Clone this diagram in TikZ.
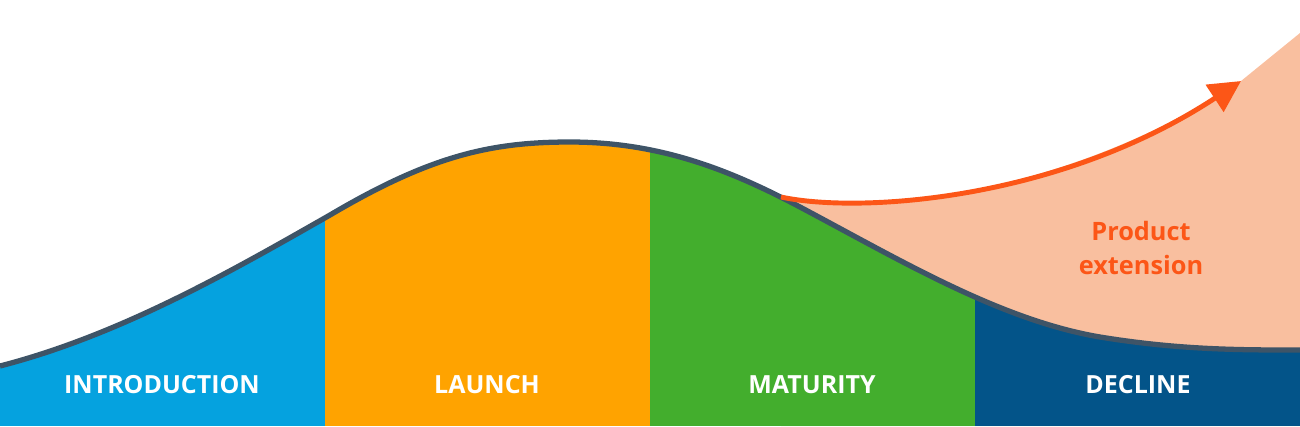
\documentclass[tikz,border=0pt]{standalone}
\usepackage{fontspec}
\setmainfont{Open Sans}
\usepackage{tikz}
\usetikzlibrary{positioning}
\usetikzlibrary{arrows.meta}
\definecolor{introblue}{HTML}{05A2DF}
\definecolor{launchorange}{HTML}{FFA300}
\definecolor{maturegreen}{HTML}{43AE2D}
\definecolor{declineblue}{HTML}{035489}
\definecolor{curveslate}{HTML}{3E5467}
\definecolor{extpeach}{HTML}{F9BF9F}
\definecolor{extorange}{HTML}{FC5617}
\tikzstyle{stage label}=[font=\bfseries\fontsize{7.1}{9}\selectfont,text=white,anchor=center]
\tikzstyle{ext label}=[font=\bfseries\fontsize{7.2}{9.4}\selectfont,text=extorange,align=center]
\tikzstyle{life curve}=[draw=curveslate,line width=1.5pt]
\tikzstyle{ext arrow}=[-{Triangle[length=9pt,width=9pt]},draw=extorange,line width=1.4pt]
\newcommand{\stagenode}[3][]{
  \node [stage label, #1] (#2) {#3}
}
\newcommand{\lifepath}{(0,366) .. controls (120,335) and (230,272) .. (330,215)
  .. controls (430,156) and (490,142) .. (570,142)
  .. controls (660,142) and (730,170) .. (800,207)
  .. controls (900,260) and (1000,320) .. (1100,337)
  .. controls (1180,350) and (1240,350) .. (1300,350)}

\begin{document}
\begin{tikzpicture}[x=0.01cm,y=-0.01cm]
        \useasboundingbox (0,0) rectangle (1300,426);
        \coordinate (ext start) at (781,197);
        \coordinate (ext tip) at (1241,81);

        % extension area above the curve
        \fill[extpeach] (ext start) .. controls (860,214) and (1060,200) .. (ext tip)
            -- (1300,33) -- (1300,426) -- (781,426) -- cycle;

        % the four stages
        \begin{scope}
                \clip \lifepath -- (1300,426) -- (0,426) -- cycle;
                \fill[introblue] (0,0) rectangle (325,426);
                \fill[launchorange] (325,0) rectangle (650,426);
                \fill[maturegreen] (650,0) rectangle (975,426);
                \fill[declineblue] (975,0) rectangle (1300,426);
        \end{scope}
        \draw[life curve] \lifepath;

        \draw[ext arrow] (ext start) .. controls (860,214) and (1060,200) .. (ext tip);

        \stagenode[at={(162,385)}]{intro}{INTRODUCTION};
        \stagenode[at={(487,385)}]{launch}{LAUNCH};
        \stagenode[at={(812,385)}]{maturity}{MATURITY};
        \stagenode[at={(1138,385)}]{decline}{DECLINE};
        \node[ext label] (ext) at (1141,248) {Product\\extension};
\end{tikzpicture}
\end{document}
